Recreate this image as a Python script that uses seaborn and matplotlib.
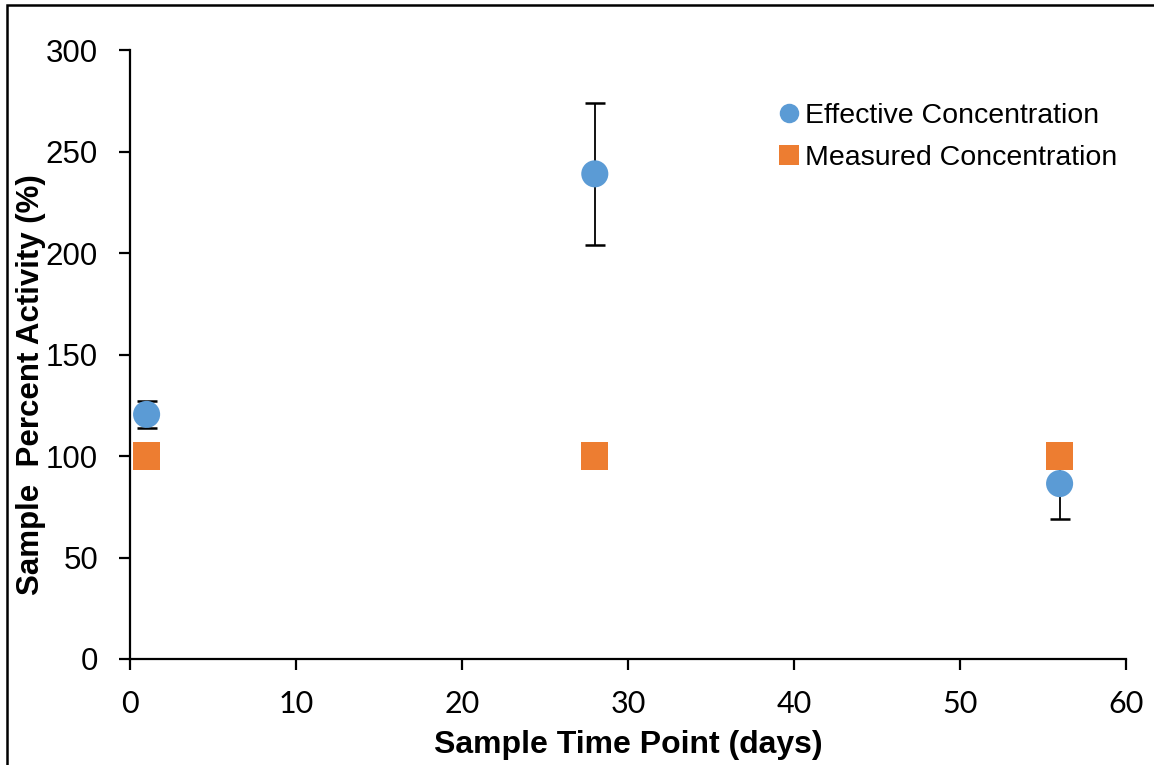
import matplotlib
matplotlib.use("Agg")
import matplotlib.pyplot as plt
from matplotlib.patches import Rectangle
import seaborn as sns
import pandas as pd

# Sample time points (days)
days = [1, 28, 56]
# Effective concentration (% activity) with error
effective = [120.5, 239.0, 86.4]
effective_err = [6.5, 35.0, 17.4]
# Measured concentration (% activity)
measured = [100, 100, 100]

series_names = ["Effective Concentration", "Measured Concentration"]
x_ticks = [0, 10, 20, 30, 40, 50, 60]
y_ticks = [0, 50, 100, 150, 200, 250, 300]

blue = "#5B9BD5"
orange = "#ED7D31"

sns.set_theme(style="white")
plt.rcParams["font.family"] = ["Liberation Sans", "DejaVu Sans"]
plt.rcParams["text.color"] = "black"
plt.rcParams["axes.labelcolor"] = "black"
plt.rcParams["xtick.color"] = "black"
plt.rcParams["ytick.color"] = "black"

df = pd.DataFrame({
    "day": days + days,
    "activity": effective + measured,
    "series": [series_names[0]] * len(days) + [series_names[1]] * len(days),
})

fig = plt.figure(figsize=(11.54, 7.65), dpi=100)
ax = fig.add_axes([130 / 1154, 1 - 659 / 765, (1126 - 130) / 1154, (659 - 50) / 765])

# Error bars for the effective concentration
ax.errorbar(days, effective, yerr=effective_err, fmt="none", ecolor="black",
            elinewidth=1.3, capsize=7, capthick=1.8, zorder=1)

sns.scatterplot(data=df, x="day", y="activity", hue="series", style="series",
                palette={series_names[0]: blue, series_names[1]: orange},
                markers={series_names[0]: "o", series_names[1]: "s"},
                s=380, linewidth=0, ax=ax, zorder=3)

ax.set_xlim(0, 60)
ax.set_ylim(0, 300)
ax.set_xticks(x_ticks)
ax.set_yticks(y_ticks)
ax.set_xticklabels([str(t) for t in x_ticks], fontsize=22, family=["Lato", "DejaVu Sans"])
ax.set_yticklabels([str(t) for t in y_ticks], fontsize=22.5,
                   family=["Liberation Sans", "DejaVu Sans"])
ax.tick_params(axis="both", direction="out", length=8, width=1.6, color="black",
               labelcolor="black", bottom=True, left=True)
ax.tick_params(axis="x", pad=14)
ax.tick_params(axis="y", pad=15)

for side in ["top", "right"]:
    ax.spines[side].set_visible(False)
for side in ["left", "bottom"]:
    ax.spines[side].set_color("black")
    ax.spines[side].set_linewidth(1.6)

ax.set_xlabel("Sample Time Point (days)", fontsize=23, fontweight="bold", labelpad=9)
ax.set_ylabel("Sample  Percent Activity (%)", fontsize=22.5, fontweight="bold")
ax.yaxis.label.set_va("center")
ax.yaxis.set_label_coords(-0.099, 0.45)

leg = ax.legend(loc="upper right", bbox_to_anchor=(1.017, 0.955), frameon=False,
                fontsize=20.5, handletextpad=-0.45, labelspacing=0.55, markerscale=0.72)
for text in leg.get_texts():
    text.set_family(["Liberation Sans", "DejaVu Sans"])
    text.set_color("black")

# Figure frame
fig.patches.append(Rectangle((7 / 1154, -0.1), 1.2, 1 - 5 / 765 + 0.1,
                             transform=fig.transFigure, fill=False,
                             edgecolor="black", linewidth=1.8, zorder=10))

fig.savefig("out.png", dpi=100)
